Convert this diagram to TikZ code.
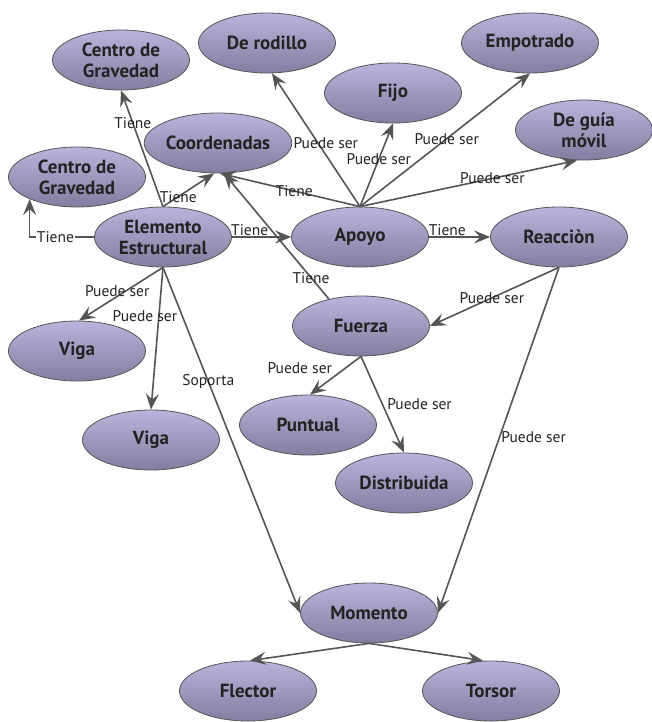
\documentclass[tikz,border=0pt]{standalone}
\usepackage{fontspec}
\setmainfont{PT Sans}
\usepackage{tikz}
\usetikzlibrary{arrows.meta,shapes.geometric}
\definecolor{ovaltop}{RGB}{186,180,220}
\definecolor{ovalbottom}{RGB}{132,125,160}
\definecolor{linegray}{RGB}{85,85,85}
\definecolor{textgray}{RGB}{35,35,35}
\tikzset{>={Stealth[length=16pt,width=13pt,inset=6pt]}}
\tikzset{
    concept/.style={ellipse,draw=linegray,line width=0.8pt,top color=ovaltop,bottom color=ovalbottom,
        minimum width=137pt,minimum height=60pt,inner sep=0pt,align=center,
        font=\fontsize{19}{21}\selectfont\bfseries,text=textgray},
    edgelabel/.style={font=\fontsize{15.5}{17}\selectfont,text=textgray,inner sep=1pt},
    directed/.style={->,draw=linegray,line width=1.6pt},
}

\begin{document}
\begin{tikzpicture}[x=1pt,y=-1pt]
		\useasboundingbox (0,0) rectangle (652,722);

		\node[concept] (centroA) at (121,60) {Centro de\\Gravedad};
		\node[concept] (rodillo) at (267,43) {De rodillo};
		\node[concept] (empotrado) at (530,43) {Empotrado};
		\node[concept] (fijo) at (393,93) {Fijo};
		\node[concept] (guia) at (584,130) {De guía\\móvil};
		\node[concept] (coord) at (218,143) {Coordenadas};
		\node[concept] (centroB) at (77,177) {Centro de\\Gravedad};
		\node[concept] (elemento) at (163,237) {Elemento\\Estructural};
		\node[concept] (apoyo) at (360,237) {Apoyo};
		\node[concept] (reaccion) at (559,237) {Reacciòn};
		\node[concept] (fuerza) at (361,326) {Fuerza};
		\node[concept] (vigaA) at (77,351) {Viga};
		\node[concept] (vigaB) at (151,440) {Viga};
		\node[concept] (puntual) at (308,425) {Puntual};
		\node[concept] (distribuida) at (404,483) {Distribuida};
		\node[concept] (momento) at (369,613) {Momento};
		\node[concept] (flector) at (248,691) {Flector};
		\node[concept] (torsor) at (491,691) {Torsor};

		\draw[directed] (elemento.north) -- node[edgelabel,pos=0.72] {Tiene} (centroA.south);
		\draw[directed] (elemento.north) -- node[edgelabel,pos=0.3] {Tiene} ([xshift=-4pt]coord.south);
		\draw[directed] (elemento.west) -| node[edgelabel,pos=0.3,fill=white] {Tiene} (centroB.205);
		\draw[directed] (elemento.east) -- node[edgelabel,pos=0.3,above] {Tiene} (apoyo.west);
		\draw[directed] (elemento.south) -- node[edgelabel,pos=0.45,xshift=-8pt] {Puede ser} ([xshift=2pt]vigaA.north);
		\draw[directed] (elemento.south) -- node[edgelabel,pos=0.34,xshift=-14pt] {Puede ser} (vigaB.north);
		\draw[directed] (elemento.south) -- node[edgelabel,pos=0.33] {Soporta} (momento.west);

		\draw[directed] (apoyo.north) -- node[edgelabel,pos=0.47] {Tiene} ([xshift=2pt]coord.south);
		\draw[directed] (apoyo.north) -- node[edgelabel,pos=0.48,xshift=8pt] {Puede ser} ([xshift=5pt]rodillo.south);
		\draw[directed] (apoyo.north) -- node[edgelabel,pos=0.57] {Puede ser} (fijo.south);
		\draw[directed] (apoyo.north) -- node[edgelabel,pos=0.51] {Puede ser} (empotrado.south);
		\draw[directed] (apoyo.north) -- node[edgelabel,pos=0.61] {Puede ser} ([xshift=-7pt]guia.south);
		\draw[directed] (apoyo.east) -- node[edgelabel,pos=0.3,above] {Tiene} (reaccion.west);

		\draw[directed] (reaccion.south) -- node[edgelabel,pos=0.52] {Puede ser} (fuerza.east);
		\draw[directed] (reaccion.south) -- node[edgelabel,pos=0.49,right] {Puede ser} (momento.east);

		\draw[directed] (fuerza.140) -- node[edgelabel,pos=0.17] {Tiene} ([xshift=6pt]coord.south);
		\draw[directed] (fuerza.south) -- node[edgelabel,pos=0.3,left=12pt] {Puede ser} ([xshift=2pt]puntual.north);
		\draw[directed] (fuerza.south) -- node[edgelabel,pos=0.5,right=3pt] {Puede ser} (distribuida.north);

		\draw[directed] (momento.south) -- ([xshift=2pt]flector.north);
		\draw[directed] (momento.south) -- ([xshift=-8pt]torsor.north);
	\end{tikzpicture}
\end{document}
